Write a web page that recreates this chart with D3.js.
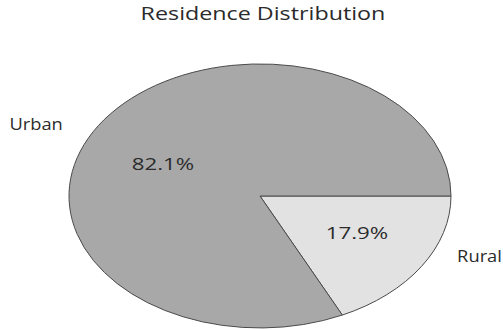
<!DOCTYPE html>
<html>
<head>
<meta charset="utf-8">
<script src="https://cdn.jsdelivr.net/npm/d3@7"></script>
<style>
  body { margin: 0; background: #fff; }
  text { font-family: "Open Sans", sans-serif; fill: #2b2b2b; }
</style>
</head>
<body>
<svg id="chart" width="503" height="330"></svg>
<script>
// data
const categories = ['Rural', 'Urban'];
const values = [17.9, 82.1];
const colors = ['#e2e2e2', '#a8a8a8'];

const svg = d3.select('#chart');

// pie is drawn as a unit circle then stretched into an ellipse
const cx = 260, cy = 196, rx = 191, ry = 132;

// the reference text is stretched sideways, widen each label by a factor
function stretch(sel, k) {
    sel.each(function () {
        const w = this.getComputedTextLength();
        d3.select(this)
            .attr('textLength', w * k)
            .attr('lengthAdjust', 'spacingAndGlyphs');
    });
}

svg.append('text')
    .attr('x', 263)
    .attr('y', 20)
    .attr('text-anchor', 'middle')
    .style('font-size', '17.5px')
    .text('Residence Distribution')
    .call(stretch, 1.33);

const pie = d3.pie()
    .sort(null)
    .startAngle(Math.PI / 2)
    .endAngle(Math.PI / 2 + 2 * Math.PI);

const arcs = pie(values);
const arc = d3.arc().innerRadius(0).outerRadius(1);

const g = svg.append('g')
    .attr('transform', 'translate(' + cx + ',' + cy + ') scale(' + rx + ',' + ry + ')');

g.selectAll('path')
    .data(arcs)
    .enter()
    .append('path')
    .attr('d', arc)
    .attr('fill', (d, i) => colors[i])
    .attr('stroke', '#4a4a4a')
    .attr('stroke-width', 1)
    .attr('vector-effect', 'non-scaling-stroke');

// mid angle measured clockwise from 12 o'clock (d3 convention)
function mid(d) { return (d.startAngle + d.endAngle) / 2; }

// percentage labels
svg.selectAll('.pct')
    .data(arcs)
    .enter()
    .append('text')
    .attr('class', 'pct')
    .attr('x', d => cx + Math.sin(mid(d)) * 0.6 * rx)
    .attr('y', d => cy - Math.cos(mid(d)) * 0.49 * ry + 2)
    .attr('text-anchor', 'middle')
    .attr('dominant-baseline', 'central')
    .style('font-size', '16.5px')
    .text(d => d.data.toFixed(1) + '%')
    .call(stretch, 1.35);

// category labels
svg.selectAll('.cat')
    .data(arcs)
    .enter()
    .append('text')
    .attr('class', 'cat')
    .attr('x', (d, i) => cx + Math.sin(mid(d)) * 1.22 * rx)
    .attr('y', d => cy - Math.cos(mid(d)) * 0.94 * ry - 6)
    .attr('text-anchor', d => Math.sin(mid(d)) > 0 ? 'start' : 'end')
    .attr('dominant-baseline', 'central')
    .style('font-size', '15.5px')
    .text((d, i) => categories[i])
    .call(stretch, 1.18);
</script>
</body>
</html>
